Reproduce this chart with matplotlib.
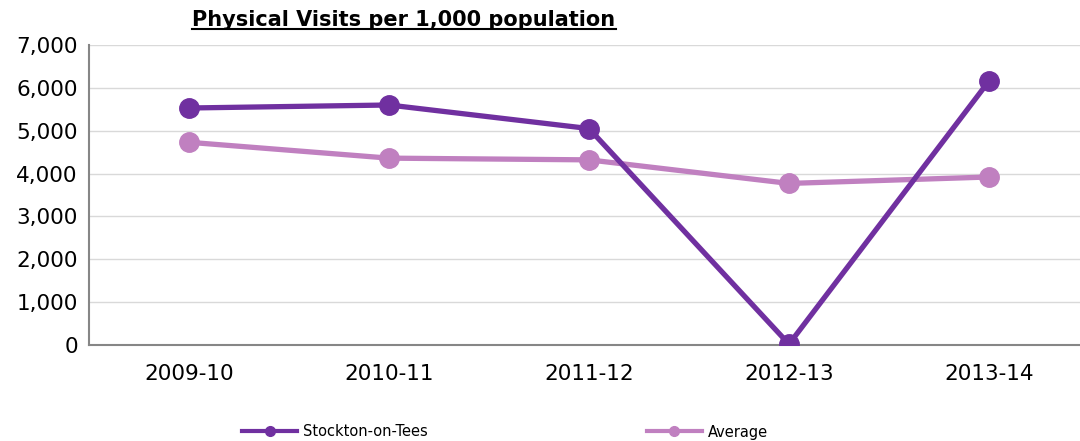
import numpy as np
import matplotlib.pyplot as plt
from matplotlib.lines import Line2D

years = ['2009-10', '2010-11', '2011-12', '2012-13', '2013-14']
stockton = [5530, 5600, 5050, 20, 6160]
average = [4730, 4360, 4320, 3770, 3920]

c_stock = '#7030A0'
c_avg = '#C080C0'

fig = plt.figure(figsize=(10.8, 4.41), dpi=100)
ax = fig.add_axes([89 / 1080, 1 - 345 / 441, 1 - 89 / 1080, 300 / 441])

x = np.arange(len(years))
ax.plot(x, average, color=c_avg, lw=3.8, marker='o', ms=14, zorder=3)
ax.plot(x, stockton, color=c_stock, lw=3.8, marker='o', ms=14, zorder=4)

ax.set_xlim(-0.5, 4.455)
ax.set_ylim(0, 7000)
ax.set_yticks(range(0, 7001, 1000))
ax.set_yticklabels(['{:,}'.format(v) for v in range(0, 7001, 1000)])
ax.set_xticks(x)
ax.set_xticklabels(years)
ax.tick_params(length=0, labelsize=15.5, colors='black')
ax.tick_params(axis='x', pad=14)
ax.tick_params(axis='y', pad=8)
ax.grid(axis='y', color='#D9D9D9', lw=1)
ax.set_axisbelow(True)
for s in ['top', 'right']:
    ax.spines[s].set_visible(False)
for s in ['left', 'bottom']:
    ax.spines[s].set_color('#868686')
    ax.spines[s].set_linewidth(1.5)

title = fig.text(404 / 1080, 1 - 20 / 441, 'Physical Visits per 1,000 population',
                 ha='center', va='center', fontsize=15, fontweight='bold')
fig.canvas.draw()
bb = title.get_window_extent().transformed(fig.transFigure.inverted())
fig.add_artist(Line2D([bb.x0, bb.x1], [bb.y0 + 0.002, bb.y0 + 0.002],
                      transform=fig.transFigure, color='black', lw=1.5))

handles = [Line2D([], [], color=c_stock, lw=3, marker='o', ms=7),
           Line2D([], [], color=c_avg, lw=3, marker='o', ms=7)]
fig.legend(handles, ['Stockton-on-Tees', 'Average'], loc='center',
           bbox_to_anchor=(505 / 1080, 1 - 432 / 441), ncol=2, frameon=False,
           fontsize=10.5, handlelength=3.8, handletextpad=0.4, columnspacing=15.0)

fig.savefig('out.png', dpi=100)
